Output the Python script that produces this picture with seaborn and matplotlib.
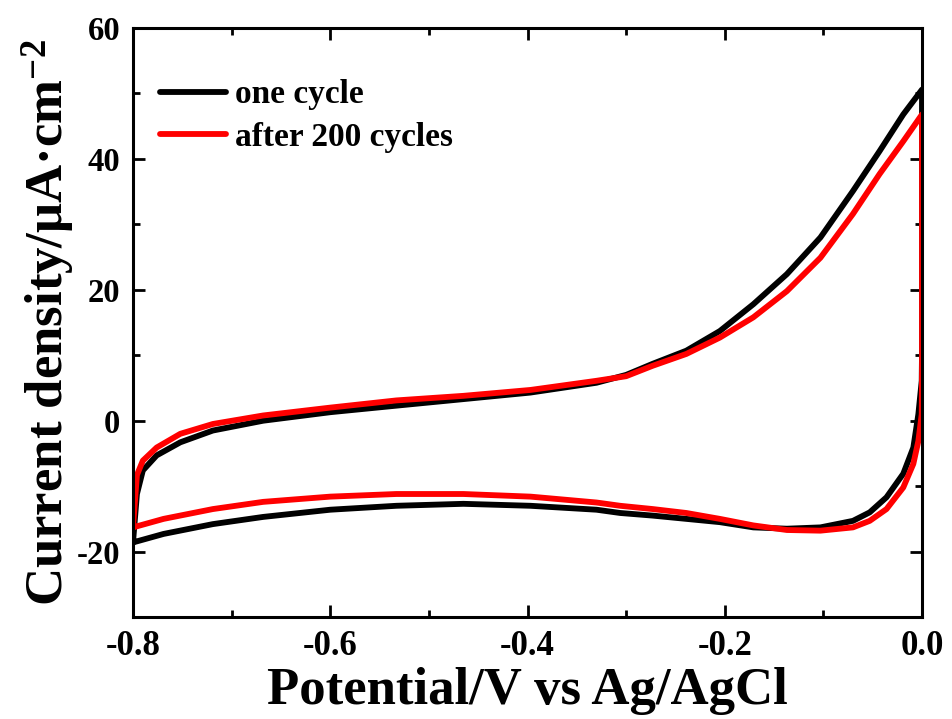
import matplotlib
matplotlib.use('Agg')

import numpy as np
import pandas as pd
import matplotlib.pyplot as plt
import seaborn as sns

# du lieu doc tu hinh (CV: quet anot tu -0.8 len 0.0, roi quet catot ve -0.8)
# nhanh anot
x_up = [-0.800, -0.796, -0.790, -0.776, -0.752, -0.719, -0.668, -0.600, -0.533, -0.465,
        -0.397, -0.330, -0.300, -0.273, -0.239, -0.205, -0.171, -0.137, -0.103, -0.070,
        -0.043, -0.019, 0.000]
one_up = [-18.6, -11.2, -7.6, -5.3, -3.3, -1.5, 0.0, 1.3, 2.3, 3.3,
          4.3, 5.8, 7.0, 8.7, 10.7, 13.7, 17.8, 22.4, 28.0, 35.1,
          41.2, 46.8, 50.6]
after_up = [-16.3, -8.3, -6.1, -4.1, -2.0, -0.5, 0.8, 2.0, 3.1, 3.8,
            4.7, 6.1, 6.8, 8.4, 10.2, 12.7, 15.8, 19.8, 24.9, 31.6,
            37.7, 42.7, 46.8]

# nhanh catot
x_down = [0.000, -0.0003, -0.0037, -0.0088, -0.019, -0.036, -0.053, -0.070, -0.103, -0.137,
          -0.171, -0.205, -0.239, -0.273, -0.306, -0.330, -0.397, -0.465, -0.533, -0.600,
          -0.668, -0.719, -0.769, -0.800]
one_down = [10.4, 6.1, 1.0, -4.1, -8.1, -11.7, -14.0, -15.3, -16.3, -16.5,
            -16.3, -15.5, -15.0, -14.5, -14.1, -13.6, -13.0, -12.7, -13.0, -13.6,
            -14.7, -15.8, -17.3, -18.6]
after_down = [7.6, 1.0, -3.1, -6.6, -10.2, -13.5, -15.3, -16.3, -16.8, -16.7,
              -16.0, -15.0, -14.1, -13.5, -13.0, -12.5, -11.6, -11.2, -11.2, -11.6,
              -12.4, -13.5, -15.0, -16.3]

labels = ['one cycle', 'after 200 cycles']
colors = ['black', 'red']

df = pd.concat([
    pd.DataFrame({'E': x_up + x_down, 'j': one_up + one_down, 'series': labels[0]}),
    pd.DataFrame({'E': x_up + x_down, 'j': after_up + after_down, 'series': labels[1]}),
], ignore_index=True)

sns.set_theme(style='ticks')
plt.rcParams['font.family'] = ['Liberation Serif', 'DejaVu Serif']
plt.rcParams['font.weight'] = 'bold'
plt.rcParams['mathtext.fontset'] = 'custom'
plt.rcParams['mathtext.rm'] = 'Liberation Serif:bold'
plt.rcParams['mathtext.bf'] = 'Liberation Serif:bold'
plt.rcParams['mathtext.default'] = 'bf'
for k in ['text.color', 'axes.labelcolor', 'xtick.color', 'ytick.color', 'axes.edgecolor']:
    plt.rcParams[k] = 'black'

fig = plt.figure(figsize=(9.52, 7.19), dpi=100)
ax = fig.add_axes([0.1397, 0.1418, 0.8288, 0.8192])

sns.lineplot(data=df, x='E', y='j', hue='series', palette=colors, sort=False,
             estimator=None, linewidth=4.2, ax=ax)

ax.set_xlim(-0.8, 0.0)
ax.set_ylim(-30, 60)
ax.set_xticks([-0.8, -0.6, -0.4, -0.2, 0.0])
ax.set_xticks([-0.7, -0.5, -0.3, -0.1], minor=True)
ax.set_yticks([-20, 0, 20, 40, 60])
ax.set_yticks([-30, -10, 10, 30, 50], minor=True)
ax.set_xticklabels(['-0.8', '-0.6', '-0.4', '-0.2', '0.0'])
ax.set_yticklabels(['-20', '0', '20', '40', '60'])

ax.tick_params(which='both', direction='in', top=True, right=True, width=2)
ax.tick_params(which='major', length=8.5, pad=9)
ax.tick_params(axis='x', which='major', labelsize=25)
ax.tick_params(axis='y', which='major', labelsize=23.5)
ax.tick_params(which='minor', length=5)
for lab in ax.get_xticklabels() + ax.get_yticklabels():
    lab.set_fontweight('bold')
for s in ax.spines.values():
    s.set_linewidth(2.2)

ax.set_xlabel('Potential/V vs Ag/AgCl', fontsize=38, fontweight='bold', labelpad=3)
ax.set_ylabel('Current density/μA·cm$^{-2}$', fontsize=38, fontweight='bold', labelpad=0)

leg = ax.legend(loc='upper left', bbox_to_anchor=(0.034, 0.913), frameon=False,
                handlelength=2.0, handletextpad=0.25, labelspacing=0.35,
                borderaxespad=0, borderpad=0, prop={'weight': 'bold', 'size': 24})
for h in leg.get_lines():
    h.set_linewidth(4.2)

fig.savefig('out.png', dpi=100)
